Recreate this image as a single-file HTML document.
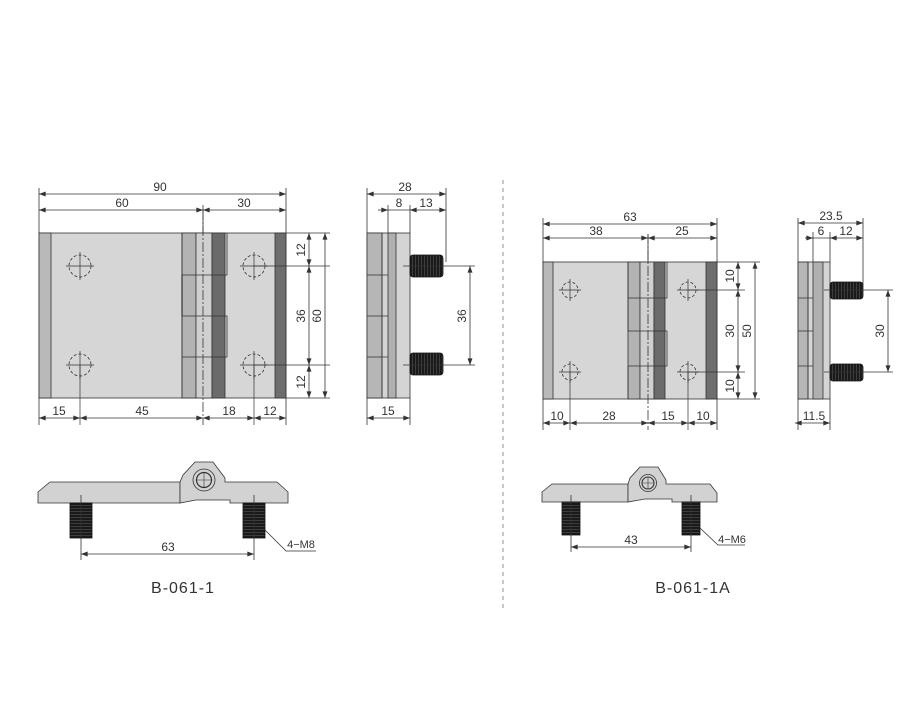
<!DOCTYPE html>
<html><head><meta charset="utf-8"><style>
html,body{margin:0;padding:0;background:#fff}
svg{display:block}
text{font-family:"Liberation Sans",sans-serif;fill:#333}
</style></head><body>
<svg width="918" height="728" viewBox="0 0 918 728" xmlns="http://www.w3.org/2000/svg">
<defs>
<marker id="a" viewBox="0 0 8 6" refX="8" refY="3" markerWidth="7" markerHeight="5" markerUnits="userSpaceOnUse" orient="auto-start-reverse"><path d="M0,0L8,3L0,6z" fill="#333"/></marker>
<pattern id="th" width="3" height="4" patternUnits="userSpaceOnUse"><rect width="3" height="4" fill="#1a1a1a"/><line x1="1.5" y1="0" x2="1.5" y2="4" stroke="#555" stroke-width="0.6"/></pattern>
<pattern id="tv" width="4" height="3" patternUnits="userSpaceOnUse"><rect width="4" height="3" fill="#1a1a1a"/><line x1="0" y1="1.5" x2="4" y2="1.5" stroke="#555" stroke-width="0.6"/></pattern>
</defs>
<g stroke="#333" stroke-width="0.8" fill="none">
<!-- ================= LEFT FRONT ================= -->
<rect x="39" y="233" width="247" height="165" fill="#d6d6d6"/>
<rect x="39" y="233" width="12" height="165" fill="#b9b9b9"/>
<rect x="182" y="233" width="14" height="165" fill="#b3b3b3"/>
<rect x="196" y="233" width="16" height="165" fill="#d0d0d0"/>
<rect x="212" y="233" width="13" height="165" fill="#6b6b6b"/>
<rect x="275" y="233" width="11" height="165" fill="#6e6e6e"/>
<path d="M182,233V275H227V233M182,398V357H227V316H182V275M182,316V357M227,275V233" />
<path d="M182,275V316" stroke-width="1.2"/>
<line x1="203" y1="210" x2="203" y2="425" stroke-dasharray="10,2,2,2"/>
<!-- holes -->
<g stroke-dasharray="3,2">
<circle cx="80" cy="266" r="11"/><circle cx="80" cy="365" r="11"/>
<circle cx="254" cy="266" r="11"/><circle cx="254" cy="365" r="11"/>
</g>
<g stroke-width="0.7">
<path d="M66,266H94M80,252V280M66,365H94M80,351V379M240,266H268M254,252V280M240,365H268M254,351V379"/>
<path d="M80,365V425M254,365V425M254,266H330M254,365H330M286,233H330M286,398H330"/>
</g>
<!-- top dims -->
<path d="M39,233V188M286,233V188M203,205V233"/>
<line x1="39" y1="194" x2="286" y2="194" marker-start="url(#a)" marker-end="url(#a)"/>
<line x1="39" y1="210" x2="203" y2="210" marker-start="url(#a)" marker-end="url(#a)"/>
<line x1="203" y1="210" x2="286" y2="210" marker-start="url(#a)" marker-end="url(#a)"/>
<!-- bottom dims -->
<path d="M39,398V425M286,398V425"/>
<line x1="39" y1="418" x2="80" y2="418" marker-start="url(#a)" marker-end="url(#a)"/>
<line x1="80" y1="418" x2="203" y2="418" marker-start="url(#a)" marker-end="url(#a)"/>
<line x1="203" y1="418" x2="254" y2="418" marker-start="url(#a)" marker-end="url(#a)"/>
<line x1="254" y1="418" x2="286" y2="418" marker-start="url(#a)" marker-end="url(#a)"/>
<!-- right dims -->
<line x1="309" y1="233" x2="309" y2="266" marker-start="url(#a)" marker-end="url(#a)"/>
<line x1="309" y1="266" x2="309" y2="365" marker-start="url(#a)" marker-end="url(#a)"/>
<line x1="309" y1="365" x2="309" y2="398" marker-start="url(#a)" marker-end="url(#a)"/>
<line x1="325" y1="233" x2="325" y2="398" marker-start="url(#a)" marker-end="url(#a)"/>

<!-- ================= LEFT SIDE ================= -->
<rect x="367" y="233" width="43" height="165" fill="#d4d4d4"/>
<rect x="367" y="233" width="15" height="165" fill="#b6b6b6"/>
<rect x="388" y="233" width="8" height="165" fill="#b0b0b0"/>
<path d="M382,233V398M367,275H388M367,316H388M367,357H388"/>
<rect x="410" y="255" width="33" height="22" rx="3" fill="url(#th)" stroke="#111"/>
<rect x="410" y="353" width="33" height="22" rx="3" fill="url(#th)" stroke="#111"/>
<path d="M403,266H475M403,365H475M367,233V188M446,262V188M388,205V233M410,205V233M367,398V425M410,398V425"/>
<line x1="367" y1="194" x2="446" y2="194" marker-start="url(#a)" marker-end="url(#a)"/>
<line x1="378" y1="210" x2="388" y2="210" marker-end="url(#a)"/>
<line x1="388" y1="210" x2="410" y2="210"/>
<line x1="410" y1="210" x2="446" y2="210" marker-start="url(#a)" marker-end="url(#a)"/>
<line x1="470" y1="266" x2="470" y2="365" marker-start="url(#a)" marker-end="url(#a)"/>
<line x1="367" y1="418" x2="410" y2="418" marker-start="url(#a)" marker-end="url(#a)"/>

<!-- ================= LEFT BOTTOM ================= -->
<path d="M38,492L50,482H180V503H38Z" fill="#d2d2d2"/>
<path d="M180,482L183,475L195,462H213L225,478V482H277L288,492V503H230V500H196L180,503Z" fill="#d2d2d2"/>
<circle cx="204" cy="480" r="11" fill="#d2d2d2"/>
<circle cx="204" cy="480" r="7.5" stroke-width="1.2"/>
<path d="M196,480H212M204,472V488" stroke-width="0.6"/>
<rect x="70" y="503" width="22" height="35" fill="url(#tv)" stroke="#111"/>
<rect x="243" y="503" width="22" height="35" fill="url(#tv)" stroke="#111"/>
<path d="M81,495V560M254,495V560M265,530L286,551H316"/>
<line x1="81" y1="554" x2="254" y2="554" marker-start="url(#a)" marker-end="url(#a)"/>

<!-- divider -->
<line x1="503" y1="180" x2="503" y2="608" stroke="#777" stroke-dasharray="4,4"/>

<!-- ================= RIGHT FRONT ================= -->
<rect x="543" y="262" width="174" height="137" fill="#d6d6d6"/>
<rect x="543" y="262" width="10" height="137" fill="#b9b9b9"/>
<rect x="628" y="262" width="12" height="137" fill="#b3b3b3"/>
<rect x="640" y="262" width="14" height="137" fill="#d0d0d0"/>
<rect x="654" y="262" width="11" height="137" fill="#6b6b6b"/>
<rect x="706" y="262" width="11" height="137" fill="#6e6e6e"/>
<path d="M628,262V298H667V262M628,399V366H667V331H628V298"/>
<line x1="648" y1="234" x2="648" y2="430" stroke-dasharray="10,2,2,2"/>
<g stroke-dasharray="3,2">
<circle cx="570" cy="290" r="8"/><circle cx="570" cy="372" r="8"/>
<circle cx="688" cy="290" r="8"/><circle cx="688" cy="372" r="8"/>
</g>
<g stroke-width="0.7">
<path d="M559,290H581M570,279V301M559,372H581M570,361V383M677,290H699M688,279V301M677,372H699M688,361V383"/>
<path d="M570,372V430M688,372V430M688,290H745M688,372H745M717,262H760M717,399H760"/>
</g>
<path d="M543,262V218M717,262V218M648,234V262M543,399V430M717,399V430"/>
<line x1="543" y1="224" x2="717" y2="224" marker-start="url(#a)" marker-end="url(#a)"/>
<line x1="543" y1="238" x2="648" y2="238" marker-start="url(#a)" marker-end="url(#a)"/>
<line x1="648" y1="238" x2="717" y2="238" marker-start="url(#a)" marker-end="url(#a)"/>
<line x1="543" y1="423" x2="570" y2="423" marker-start="url(#a)" marker-end="url(#a)"/>
<line x1="570" y1="423" x2="648" y2="423" marker-start="url(#a)" marker-end="url(#a)"/>
<line x1="648" y1="423" x2="688" y2="423" marker-start="url(#a)" marker-end="url(#a)"/>
<line x1="688" y1="423" x2="717" y2="423" marker-start="url(#a)" marker-end="url(#a)"/>
<line x1="738" y1="262" x2="738" y2="290" marker-start="url(#a)" marker-end="url(#a)"/>
<line x1="738" y1="290" x2="738" y2="372" marker-start="url(#a)" marker-end="url(#a)"/>
<line x1="738" y1="372" x2="738" y2="399" marker-start="url(#a)" marker-end="url(#a)"/>
<line x1="755" y1="262" x2="755" y2="399" marker-start="url(#a)" marker-end="url(#a)"/>

<!-- ================= RIGHT SIDE ================= -->
<rect x="798" y="262" width="32" height="137" fill="#d4d4d4"/>
<rect x="798" y="262" width="10" height="137" fill="#b6b6b6"/>
<rect x="813" y="262" width="10" height="137" fill="#b0b0b0"/>
<path d="M808,262V399M798,298H813M798,331H813M798,366H813"/>
<rect x="830" y="282" width="33" height="17" rx="3" fill="url(#th)" stroke="#111"/>
<rect x="830" y="364" width="33" height="17" rx="3" fill="url(#th)" stroke="#111"/>
<path d="M824,290H893M824,372H893M798,262V218M863,285V218M813,232V262M830,232V262M798,399V430M830,399V430"/>
<line x1="798" y1="223" x2="863" y2="223" marker-start="url(#a)" marker-end="url(#a)"/>
<line x1="805" y1="238" x2="813" y2="238" marker-end="url(#a)"/>
<line x1="813" y1="238" x2="830" y2="238"/>
<line x1="830" y1="238" x2="863" y2="238" marker-start="url(#a)" marker-end="url(#a)"/>
<line x1="888" y1="290" x2="888" y2="372" marker-start="url(#a)" marker-end="url(#a)"/>
<line x1="795" y1="423" x2="830" y2="423" marker-start="url(#a)" marker-end="url(#a)"/>

<!-- ================= RIGHT BOTTOM ================= -->
<path d="M542,492L552,484H628V502H542Z" fill="#d2d2d2"/>
<path d="M628,484L630,478L640,467H658L666,480V484H710L717,493V502H672V499H645L628,502Z" fill="#d2d2d2"/>
<circle cx="648" cy="483" r="8.5" fill="#d2d2d2"/>
<circle cx="648" cy="483" r="6" stroke-width="1.1"/>
<path d="M642,483H654M648,477V489" stroke-width="0.6"/>
<rect x="562" y="502" width="18" height="33" fill="url(#tv)" stroke="#111"/>
<rect x="682" y="502" width="18" height="33" fill="url(#tv)" stroke="#111"/>
<path d="M571,495V552M691,495V552M700,528L718,545H745"/>
<line x1="571" y1="547" x2="691" y2="547" marker-start="url(#a)" marker-end="url(#a)"/>
</g>

<!-- ================= TEXT ================= -->
<g font-size="12" text-anchor="middle">
<text x="160" y="191">90</text>
<text x="122" y="207">60</text>
<text x="244" y="207">30</text>
<text x="59" y="415">15</text>
<text x="142" y="415">45</text>
<text x="229" y="415">18</text>
<text x="270" y="415">12</text>
<text transform="translate(305,250) rotate(-90)">12</text>
<text transform="translate(305,316) rotate(-90)">36</text>
<text transform="translate(305,382) rotate(-90)">12</text>
<text transform="translate(321,316) rotate(-90)">60</text>
<text x="405" y="191">28</text>
<text x="399" y="207">8</text>
<text x="426" y="207">13</text>
<text transform="translate(466,316) rotate(-90)">36</text>
<text x="388" y="415">15</text>
<text x="168" y="551">63</text>
<text x="301" y="548" font-size="11">4−M8</text>
<text x="630" y="221">63</text>
<text x="596" y="235">38</text>
<text x="682" y="235">25</text>
<text x="557" y="420">10</text>
<text x="609" y="420">28</text>
<text x="668" y="420">15</text>
<text x="703" y="420">10</text>
<text transform="translate(734,276) rotate(-90)">10</text>
<text transform="translate(734,331) rotate(-90)">30</text>
<text transform="translate(734,386) rotate(-90)">10</text>
<text transform="translate(751,331) rotate(-90)">50</text>
<text x="831" y="220">23.5</text>
<text x="821" y="235">6</text>
<text x="846" y="235">12</text>
<text transform="translate(884,331) rotate(-90)">30</text>
<text x="814" y="420">11.5</text>
<text x="631" y="544">43</text>
<text x="732" y="543" font-size="11">4−M6</text>
</g>
<g font-size="16" text-anchor="middle">
<text x="183" y="593" letter-spacing="1">B-061-1</text>
<text x="693" y="593" letter-spacing="1">B-061-1A</text>
</g>
</svg>
</body></html>
